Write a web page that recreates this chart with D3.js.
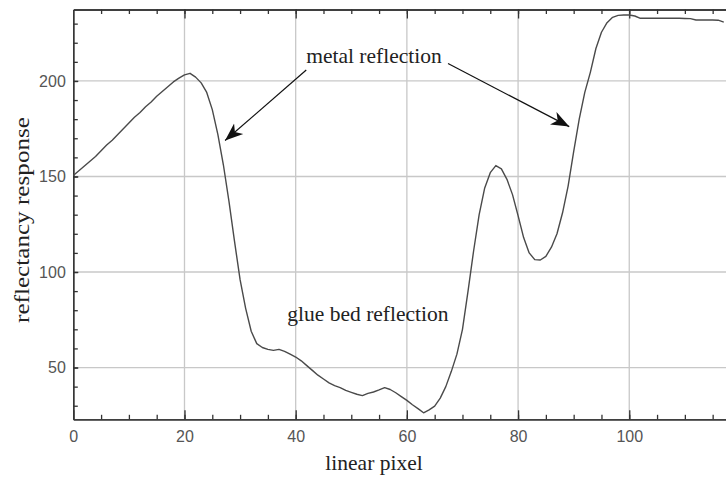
<!DOCTYPE html>
<html>
<head>
<meta charset="utf-8">
<script src="https://cdn.jsdelivr.net/npm/d3@7"></script>
<style>
  body { margin: 0; background: #fff; }
  svg { display: block; }
</style>
</head>
<body>
<script>
var w = 726;
var h = 481;

// reflectancy, one value per linear pixel (0..117)
var pixels = d3.range(0, 118);
var response = [
  150.5, 153, 155.5, 158, 160.5, 163.5, 166.5, 169, 172, 175,
  178, 181, 183.5, 186.5, 189, 192, 194.5, 197, 199.5, 201.5,
  203.2, 204, 202, 199, 194, 185, 172, 156, 137, 116,
  96, 81, 69, 62.5, 60.5, 59.5, 59, 59.5, 58.5, 57,
  55.5, 53.5, 51, 48.5, 46, 44, 42, 40.5, 39.5, 38,
  37, 36, 35.3, 36.5, 37.2, 38.3, 39.5, 38.5, 36.8, 34.8,
  32.8, 30.5, 28.5, 26.3, 27.8, 29.8, 34, 40, 48, 57,
  70, 90, 111, 130, 144, 152, 155.7, 154, 148.5, 140.5,
  129.5, 118, 110, 106.5, 106.3, 108.2, 113, 120, 131, 145,
  163, 180, 194, 204.5, 217, 225.5, 230.5, 233.3, 234.3, 234.5,
  234.5, 234, 232.8, 232.8, 232.8, 232.8, 232.8, 232.8, 232.8, 232.8,
  232.7, 232.6, 231.9, 231.9, 231.9, 231.9, 231.8, 230.8
];

var xMajor = [0, 20, 40, 60, 80, 100];
var xMinor = d3.range(5, 118, 5);
var yMajor = [50, 100, 150, 200];
var yMinor = d3.range(30, 237, 10);

// annotations, in data units
var notes = [
  { text: "metal reflection", x: 41.9, y: 209.4 },
  { text: "glue bed reflection", x: 38.5, y: 74.5 }
];
var arrows = [
  { x1: 41.9, y1: 205.7, x2: 27.3, y2: 168.8 },
  { x1: 67.4, y1: 209.1, x2: 89.2, y2: 176.1 }
];

var plotLeft = 73.3, plotTop = 9.5, plotRight = 726, plotBottom = 419.3;

var svg = d3.select("body").append("svg").attr("width", w).attr("height", h);

var x = d3.scaleLinear().domain([0, 117.4]).range([plotLeft, plotRight]);
var y = d3.scaleLinear().domain([22.9, 237.4]).range([plotBottom, plotTop]);

// grid
svg.append("g").selectAll("line").data(xMajor.slice(1)).enter().append("line")
  .attr("x1", d => x(d)).attr("x2", d => x(d))
  .attr("y1", plotTop).attr("y2", plotBottom)
  .attr("stroke", "#c8c8c8").attr("stroke-width", 1.3);
svg.append("g").selectAll("line").data(yMajor).enter().append("line")
  .attr("x1", plotLeft).attr("x2", plotRight)
  .attr("y1", d => y(d)).attr("y2", d => y(d))
  .attr("stroke", "#c8c8c8").attr("stroke-width", 1.3);

function styleAxis(g) {
  g.attr("font-size", 16).attr("font-family", "'Liberation Sans', Arial, sans-serif");
  g.selectAll("path, line").attr("stroke", "#333").attr("stroke-width", 1.3);
  g.selectAll("text").attr("fill", "#555");
}

// bottom axis
svg.append("g").attr("transform", "translate(0," + plotBottom + ")")
  .call(d3.axisBottom(x).tickValues(xMinor).tickSize(-4.5).tickSizeOuter(0).tickFormat(""))
  .call(styleAxis);
svg.append("g").attr("transform", "translate(0," + plotBottom + ")")
  .call(d3.axisBottom(x).tickValues(xMajor).tickSize(-9).tickSizeOuter(0).tickPadding(11))
  .call(styleAxis);

// top axis, ticks only
svg.append("g").attr("transform", "translate(0," + plotTop + ")")
  .call(d3.axisTop(x).tickValues(xMinor).tickSize(-4.5).tickSizeOuter(0).tickFormat(""))
  .call(styleAxis);
svg.append("g").attr("transform", "translate(0," + plotTop + ")")
  .call(d3.axisTop(x).tickValues(xMajor.slice(1)).tickSize(-9).tickSizeOuter(0).tickFormat(""))
  .call(styleAxis);

// left axis
svg.append("g").attr("transform", "translate(" + plotLeft + ",0)")
  .call(d3.axisLeft(y).tickValues(yMinor).tickSize(-4.5).tickSizeOuter(0).tickFormat(""))
  .call(styleAxis);
svg.append("g").attr("transform", "translate(" + plotLeft + ",0)")
  .call(d3.axisLeft(y).tickValues(yMajor).tickSize(-5).tickSizeOuter(0).tickPadding(7.5))
  .call(styleAxis);

// the trace
var line = d3.line()
  .x((d, i) => x(pixels[i]))
  .y(d => y(d));

svg.append("path")
  .datum(response)
  .attr("d", line)
  .attr("fill", "none")
  .attr("stroke", "#4a4a4a")
  .attr("stroke-width", 1.4)
  .attr("stroke-linejoin", "round");

// arrow head
svg.append("defs").append("marker")
  .attr("id", "head")
  .attr("markerUnits", "userSpaceOnUse")
  .attr("viewBox", "-18 -8 20 16")
  .attr("refX", 0).attr("refY", 0)
  .attr("markerWidth", 20).attr("markerHeight", 16)
  .attr("orient", "auto")
  .append("path")
  .attr("d", "M0,0 L-18,-7 L-13,0 L-18,7 Z")
  .attr("fill", "#111");

svg.append("g").selectAll("line").data(arrows).enter().append("line")
  .attr("x1", d => x(d.x1)).attr("y1", d => y(d.y1))
  .attr("x2", d => x(d.x2)).attr("y2", d => y(d.y2))
  .attr("stroke", "#111").attr("stroke-width", 1.2)
  .attr("marker-end", "url(#head)");

var serif = "'Liberation Serif', 'Times New Roman', serif";

svg.append("g").selectAll("text").data(notes).enter().append("text")
  .attr("x", d => x(d.x)).attr("y", d => y(d.y))
  .attr("fill", "#222")
  .style("font-family", serif).style("font-size", "21.5px")
  .text(d => d.text);

// axis titles
svg.append("text")
  .attr("x", 374).attr("y", 470)
  .attr("text-anchor", "middle")
  .attr("fill", "#222")
  .style("font-family", serif).style("font-size", "21.5px")
  .text("linear pixel");

svg.append("text")
  .attr("transform", "translate(29,220) rotate(-90)")
  .attr("text-anchor", "middle")
  .attr("fill", "#222")
  .attr("textLength", 206)
  .attr("lengthAdjust", "spacingAndGlyphs")
  .style("font-family", serif).style("font-size", "21px")
  .text("reflectancy response");
</script>
</body>
</html>
